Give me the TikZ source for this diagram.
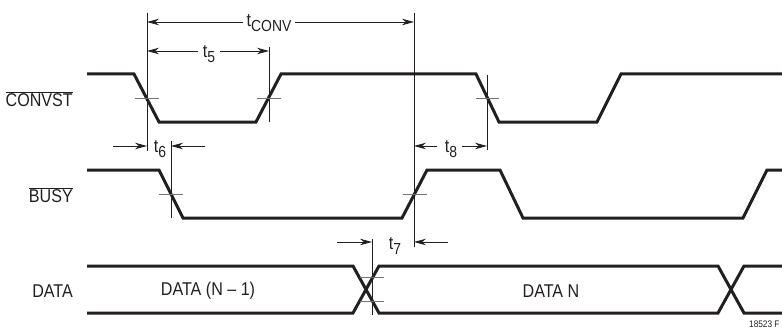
\documentclass[tikz,border=0pt]{standalone}
\usepackage{fontspec}
\setmainfont{Liberation Sans}[FakeStretch=0.87]
\usetikzlibrary{arrows.meta}
\definecolor{ink}{HTML}{231F20}
\newcommand{\tsub}[1]{t\raisebox{-5pt}{\fontsize{16}{16}\selectfont #1}}
\begin{document}
\begin{tikzpicture}[x=1pt,y=-1pt,
  sig/.style={line width=3pt, line join=miter, ink},
  refl/.style={line width=0.8pt, ink},
  tickl/.style={line width=0.8pt, black!55},
  dim/.style={line width=0.8pt, ink, -{Stealth[length=12pt,width=6.5pt]}},
  lbl/.style={font=\fontsize{18.5}{18.5}\selectfont, inner sep=0pt, text=ink},
  tlab/.style={font=\fontsize{18.5}{18.5}\selectfont, inner sep=0pt, text=ink, anchor=base},
  note/.style={font=\fontsize{9.5}{10}\selectfont, inner sep=0pt, text=ink, anchor=base west}
]
\useasboundingbox (0,0) rectangle (782,329);

% signal names
\node[lbl, anchor=east] (nconv) at (73,99) {$\overline{\mbox{CONVST}}$};
\node[lbl, anchor=east] (nbusy) at (73,195) {$\overline{\mbox{BUSY}}$};
\node[lbl, anchor=east] (ndata) at (73,291) {DATA};

% waveforms
\draw[sig] (87,74) -- (134,74) -- (159,122) -- (256,122) -- (281,74) -- (476,74)
  -- (499,122) -- (597,122) -- (621,74) -- (782,74);
\draw[sig] (87,170) -- (159,170) -- (183,218) -- (402,218) -- (427,170) -- (500,170)
  -- (523,218) -- (743,218) -- (767,170) -- (782,170);
\draw[sig] (87,266) -- (353,266) -- (379,313) -- (718,313) -- (744,266) -- (782,266);
\draw[sig] (87,313) -- (353,313) -- (379,266) -- (718,266) -- (744,313) -- (782,313);

\node[lbl] (dprev) at (208,291) {DATA (N – 1)};
\node[lbl] (dnext) at (551,291) {DATA N};

% reference lines
\coordinate (v1t) at (147,13);  \coordinate (v1b) at (147,151);
\coordinate (v2t) at (269,47);  \coordinate (v2b) at (269,122);
\coordinate (v3t) at (414,13);  \coordinate (v3b) at (414,247);
\coordinate (v4t) at (171,141); \coordinate (v4b) at (171,218);
\coordinate (v5t) at (487,75);  \coordinate (v5b) at (487,150);
\coordinate (v6t) at (372,239); \coordinate (v6b) at (372,315);
\foreach \v in {1,...,6} \draw[refl] (v\v t) -- (v\v b);

% crossing ticks
\draw[tickl] (135,98) -- (159,98);
\draw[tickl] (257,98) -- (281,98);
\draw[tickl] (476,98) -- (499,98);
\draw[tickl] (159,194) -- (183,194);
\draw[tickl] (403,194) -- (427,194);
\draw[tickl] (360,277.5) -- (384,277.5);
\draw[tickl] (360,301.5) -- (384,301.5);

% timing labels
\node[tlab] (tconv) at (269,27) {\tsub{CONV}};
\node[tlab] (tfive) at (209,58) {\tsub{5}};
\node[tlab] (tsix) at (160,152) {\tsub{6}};
\node[tlab] (teight) at (451,152) {\tsub{8}};
\node[tlab] (tseven) at (395,249) {\tsub{7}};

% dimension arrows
\draw[dim] (243,22) -- (147,22);
\draw[dim] (295,22) -- (414,22);
\draw[dim] (198,51) -- (147,51);
\draw[dim] (220,51) -- (269,51);
\draw[dim] (113,146) -- (147,146);
\draw[dim] (205,146) -- (171,146);
\draw[dim] (437,146) -- (414,146);
\draw[dim] (462,146) -- (487,146);
\draw[dim] (337,242) -- (372,242);
\draw[dim] (448,242) -- (414,242);

\node[note] (fig) at (749,327) {18523 F};
\end{tikzpicture}
\end{document}
